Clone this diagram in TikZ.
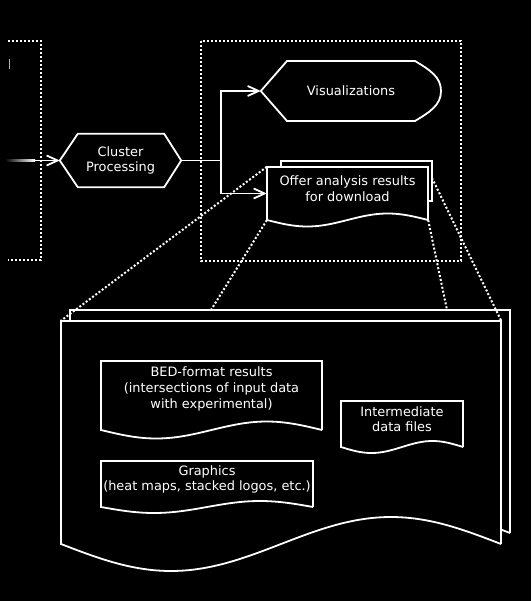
\documentclass[tikz,border=0pt]{standalone}
\usepackage{fontspec}
\setmainfont{DejaVu Sans}
\usetikzlibrary{arrows.meta,calc}
% document outline: #2,#3 top-left, #4 right, #5 bottom at the sides, #6 wave amplitude
\newcommand\docshape[6][]{%
  \filldraw[doc,#1] (#2,#5) -- (#2,#3) -- (#4,#3) -- (#4,#5)
    -- plot[domain=#4:#2, samples=60, smooth] (\x,{#5+#6*sin((360/(#4-#2))*(\x-#2))}) -- cycle;}
\begin{document}
\begin{tikzpicture}[x=1pt,y=-1pt,
  line/.style={draw=white, line width=1.8pt},
  dots/.style={draw=white, line width=2pt, dash pattern=on 2pt off 2pt},
  conn/.style={draw=white, line width=1.8pt, -{Straight Barb[length=11pt,width=10pt]}},
  shapebox/.style={draw=none, inner sep=0pt, rectangle},
  txt/.style={text=white, align=center, inner sep=0pt, font=\fontsize{12.9}{15.6}\selectfont},
  doc/.style={draw=white, fill=black, line width=1.8pt, line join=miter},
]
\fill[black] (0,0) rectangle (531,601);

% group frames
\draw[dots] (8,41) -- (41,41) -- (41,260) -- (8,260);
\draw[dots] (201,41) rectangle (461,261);
\draw[gray!60, line width=1pt] (9,59) -- (9,69);

% anchors of the shapes
\node[shapebox, minimum width=121pt, minimum height=53pt] (cp) at (120.5,160.5) {};
\node[shapebox, minimum width=180pt, minimum height=60pt] (vis) at (351,91) {};
\node[shapebox, minimum width=161pt, minimum height=53pt] (offer) at (347.5,193.5) {};
\node[shapebox, minimum width=440pt, minimum height=223pt] (big) at (281,432.5) {};

% incoming flow
\coordinate (src) at (35,160.5);
\shade[left color=black, right color=white] (5,159.6) rectangle (35,161.4);
\draw[conn] (src) -- (cp.west);

% cluster processing
\filldraw[line, fill=black] (cp.west) -- ([xshift=18pt]cp.north west) -- ([xshift=-17pt]cp.north east)
  -- (cp.east) -- ([xshift=-17pt]cp.south east) -- ([xshift=18pt]cp.south west) -- cycle;
\node[txt] (cptxt) at (cp) {Cluster\\Processing};

% branching
\coordinate (split) at ($(cp.east)+(40,0)$);
\draw[line] (cp.east) -- (split);
\draw[conn] (split) |- (vis.west);
\draw[conn] (split) |- (offer.west);

% visualizations (display shape)
\filldraw[line, fill=black] (vis.west) -- (287,61) -- (415,61)
  .. controls (430,70) and (441,77) .. (441,91)
  .. controls (441,105) and (430,112) .. (415,121) -- (287,121) -- cycle;
\node[txt] (vistxt) at (vis) {Visualizations};

% result stack, enlarged
\docshape{70}{310}{510}{533}{27}
\docshape{61}{321}{501}{544}{27}

% zoom lines
\coordinate (offer-side) at (432,178);
\coordinate (big-a) at (211,310);
\coordinate (big-b) at (447,310);
\draw[dots] (offer.north west) -- (big.north west);
\draw[dots] (offer.south west) -- (big-a);
\draw[dots] (offer.south east) -- (big-b);
\draw[dots] (offer-side) -- (big.north east);

% offer results (stacked documents)
\filldraw[doc] (281,201) -- (281,161) -- (432,161) -- (432,201) -- cycle;
\docshape{267}{167}{428}{220}{6.5}
\node[txt] (offertxt) at (347.5,188.5) {Offer analysis results\\for download};

% contents of the result stack
\docshape{101}{361}{322}{430}{8.5}
\node[txt] (bed) at (211.5,389) {BED-format results\\(intersections of input data\\with experimental)};
\docshape{341}{401}{463}{447}{6}
\node[txt] (inter) at (402,419) {Intermediate\\data files};
\docshape{101}{461}{313}{507}{6}
\node[txt] (gfx) at (207,479.5) {Graphics\\(heat maps, stacked logos, etc.)};
\end{tikzpicture}
\end{document}
